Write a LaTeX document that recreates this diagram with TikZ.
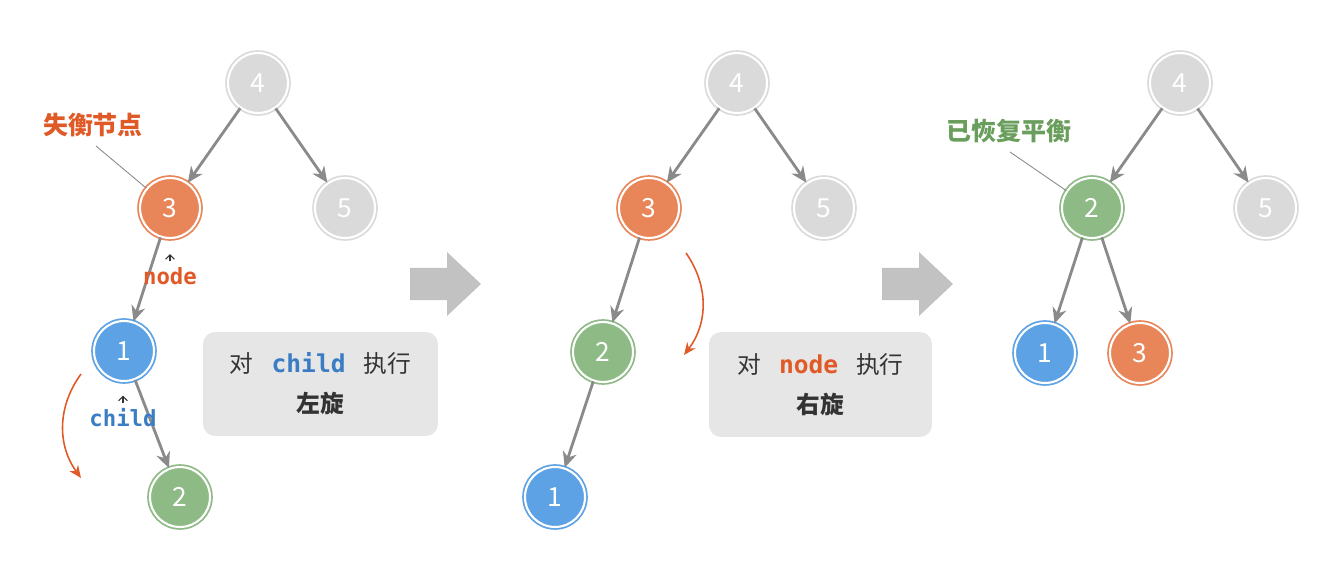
\documentclass[tikz,border=0pt]{standalone}
\usepackage{fontspec}
\setmainfont{Noto Sans CJK SC}
\newfontfamily\codefont{DejaVu Sans Mono}
\usetikzlibrary{positioning,arrows.meta}
\definecolor{nodegray}{HTML}{DADADA}
\definecolor{nodeorange}{HTML}{E8865A}
\definecolor{nodeblue}{HTML}{5DA2E4}
\definecolor{nodegreen}{HTML}{8DBA85}
\definecolor{edgegray}{HTML}{8A8A8A}
\definecolor{labelorange}{HTML}{E05A28}
\definecolor{labelblue}{HTML}{3B7DC4}
\definecolor{labelgreen}{HTML}{6A9E5C}
\definecolor{boxgray}{HTML}{E6E6E6}
\definecolor{textdark}{HTML}{333333}
\definecolor{bigarrowgray}{HTML}{C2C2C2}

\begin{document}
\begin{tikzpicture}[x=0.02cm, y=-0.02cm,
    tnode/.style={circle, minimum size=1.2cm, inner sep=0pt, fill=#1, draw=#1,
        double=white, double distance=1.2pt, line width=1pt, text=white,
        font=\fontsize{15}{15}\selectfont},
    edge/.style={draw=edgegray, line width=1.6pt, -{Stealth[length=9pt,width=8pt]}},
    pointer/.style={draw=edgegray, line width=0.5pt},
    caret/.style={draw=textdark, line width=0.6pt, -{Straight Barb[length=2.5pt,width=5pt]}},
    rotarrow/.style={draw=labelorange, line width=0.9pt, -{Stealth[length=7pt,width=6pt]}},
    codelbl/.style={font=\codefont\bfseries\fontsize{12.7}{12.7}\selectfont},
    opbox/.style={fill=boxgray, rounded corners=0.24cm, align=center, text=textdark,
        font=\fontsize{13.5}{22.7}\selectfont},
    bigarrow/.style={fill=bigarrowgray}]
    \useasboundingbox (0,0) rectangle (1332,564);

    % panel 1: before left rotation
    \begin{scope}
        \node[tnode=nodegray] (p1n4) at (258,83) {4};
        \node[tnode=nodeorange] (p1n3) at (170,208) {3};
        \node[tnode=nodegray] (p1n5) at (345,208) {5};
        \node[tnode=nodeblue] (p1n1) at (124,351) {1};
        \node[tnode=nodegreen] (p1n2) at (180,497) {2};
        \draw[edge] (p1n4) -- (p1n3);
        \draw[edge] (p1n4) -- (p1n5);
        \draw[edge] (p1n3) -- (p1n1);
        \draw[edge] (p1n1) -- (p1n2);

        \node[text=labelorange, font=\bfseries\fontsize{14.2}{14.2}\selectfont] (p1lbl) at (93,125) {失衡节点};
        \coordinate (p1tip) at (96,146);
        \draw[pointer] (p1tip) -- (p1n3.140);

        \node[codelbl, text=labelorange] (p1node) at (170,276) {node};
        \draw[caret] (p1node.north) -- ++(0,-7);
        \node[codelbl, text=labelblue] (p1child) at (123,418) {child};
        \draw[caret] (p1child.north) -- ++(0,-7);

        \coordinate (p1rs) at (81,374);
        \coordinate (p1re) at (81,478);
        \draw[rotarrow] (p1rs) to[bend right=36] (p1re);

        \node[opbox, minimum width=4.7cm, minimum height=2.08cm] (p1box) at (320.5,384)
            {对\hspace{0.36cm}{\codefont\bfseries\fontsize{14}{14}\selectfont\color{labelblue}child}\hspace{0.36cm}执行\\\textbf{左旋}};
    \end{scope}

    % arrow 1
    \fill[bigarrow] (410,268) -- (447,268) -- (447,252) -- (481,284) -- (447,316) -- (447,300) -- (410,300) -- cycle;

    % panel 2: before right rotation
    \begin{scope}
        \node[tnode=nodegray] (p2n4) at (737,83) {4};
        \node[tnode=nodeorange] (p2n3) at (649,208) {3};
        \node[tnode=nodegray] (p2n5) at (824,208) {5};
        \node[tnode=nodegreen] (p2n2) at (603,352) {2};
        \node[tnode=nodeblue] (p2n1) at (555,497) {1};
        \draw[edge] (p2n4) -- (p2n3);
        \draw[edge] (p2n4) -- (p2n5);
        \draw[edge] (p2n3) -- (p2n2);
        \draw[edge] (p2n2) -- (p2n1);

        \coordinate (p2rs) at (686,253);
        \coordinate (p2re) at (684,355);
        \draw[rotarrow] (p2rs) to[bend left=36] (p2re);

        \node[opbox, minimum width=4.46cm, minimum height=2.1cm] (p2box) at (820.5,384.5)
            {对\hspace{0.36cm}{\codefont\bfseries\fontsize{14}{14}\selectfont\color{labelorange}node}\hspace{0.36cm}执行\\\textbf{右旋}};
    \end{scope}

    % arrow 2
    \fill[bigarrow] (882,268) -- (919,268) -- (919,252) -- (953,284) -- (919,316) -- (919,300) -- (882,300) -- cycle;

    % panel 3: balanced
    \begin{scope}
        \node[tnode=nodegray] (p3n4) at (1180,83) {4};
        \node[tnode=nodegreen] (p3n2) at (1092,208) {2};
        \node[tnode=nodegray] (p3n5) at (1266,208) {5};
        \node[tnode=nodeblue] (p3n1) at (1045,353) {1};
        \node[tnode=nodeorange] (p3n3) at (1140,353) {3};
        \draw[edge] (p3n4) -- (p3n2);
        \draw[edge] (p3n4) -- (p3n5);
        \draw[edge] (p3n2) -- (p3n1);
        \draw[edge] (p3n2) -- (p3n3);

        \node[text=labelgreen, font=\bfseries\fontsize{14.2}{14.2}\selectfont] (p3lbl) at (1009,131) {已恢复平衡};
        \coordinate (p3tip) at (1010,152);
        \draw[pointer] (p3tip) -- (p3n2.146);
    \end{scope}
\end{tikzpicture}
\end{document}
